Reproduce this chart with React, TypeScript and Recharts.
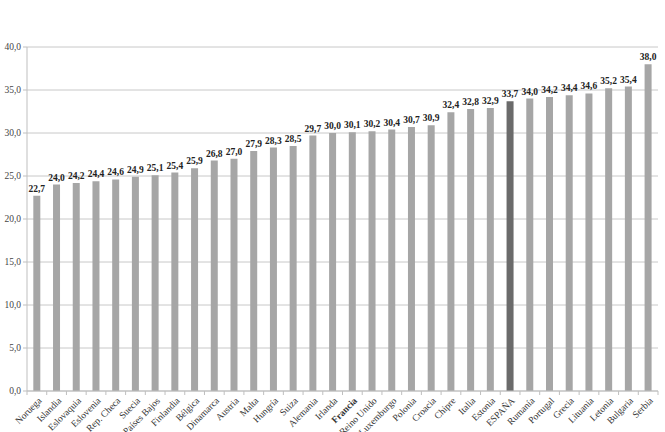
import { Bar, BarChart, CartesianGrid, Cell, LabelList, XAxis, YAxis } from 'recharts';

const countries = [
    'Noruega', 'Islandia', 'Eslovaquia', 'Eslovenia', 'Rep. Checa', 'Suecia', 'Países Bajos', 'Finlandia',
    'Bélgica', 'Dinamarca', 'Austria', 'Malta', 'Hungría', 'Suiza', 'Alemania', 'Irlanda',
    'Francia', 'Reino Unido', 'Luxemburgo', 'Polonia', 'Croacia', 'Chipre', 'Italia', 'Estonia',
    'ESPAÑA', 'Rumanía', 'Portugal', 'Grecia', 'Lituania', 'Letonia', 'Bulgaria', 'Serbia',
];

const values = [
    22.7, 24.0, 24.2, 24.4, 24.6, 24.9, 25.1, 25.4,
    25.9, 26.8, 27.0, 27.9, 28.3, 28.5, 29.7, 30.0,
    30.1, 30.2, 30.4, 30.7, 30.9, 32.4, 32.8, 32.9,
    33.7, 34.0, 34.2, 34.4, 34.6, 35.2, 35.4, 38.0,
];

const yTicks = [0, 5, 10, 15, 20, 25, 30, 35, 40];

const highlight = 'ESPAÑA';
const boldTick = 'Francia';

const data = countries.map((name, i) => ({ name, value: values[i] }));

const W = 665;
const H = 432;
const M = { top: 47, right: 7, left: 0, bottom: 0 };
const Y_W = 27;
const halfBand = (W - M.left - M.right - Y_W) / countries.length / 2;

const font = '"Liberation Serif", "DejaVu Serif", serif';
const fmt = (v: number) => v.toFixed(1).replace('.', ',');

function CountryTick(props: any) {
    const { x, y, payload, index } = props;
    const axisY = y - 6;
    const isBold = payload.value === boldTick;
    return (
        <g>
            <line x1={x - halfBand} y1={axisY} x2={x - halfBand} y2={axisY + 4} stroke="#bfbfbf" />
            {index === countries.length - 1 && (
                <line x1={x + halfBand} y1={axisY} x2={x + halfBand} y2={axisY + 4} stroke="#bfbfbf" />
            )}
            <text
                x={x + 3}
                y={y + 2}
                textAnchor="end"
                fontSize={9.5}
                fontFamily={font}
                fontWeight={isBold ? 'bold' : 'normal'}
                fill="#333"
                transform={`rotate(-45, ${x + 3}, ${y + 2})`}
                dy="0.35em"
            >
                {payload.value}
            </text>
        </g>
    );
}

export default function App() {
    return (
        <div>
            <style>{'body{margin:0}'}</style>
            <BarChart width={W} height={H} data={data} margin={M} barCategoryGap="32%">
                <CartesianGrid vertical={false} stroke="#c8c8c8" />
                <XAxis
                    dataKey="name"
                    interval={0}
                    height={41}
                    tickLine={false}
                    tickSize={4}
                    tickMargin={2}
                    axisLine={{ stroke: '#bfbfbf' }}
                    tick={<CountryTick />}
                />
                <YAxis
                    width={Y_W}
                    domain={[0, 40]}
                    ticks={yTicks}
                    tickFormatter={fmt}
                    tickSize={4}
                    tickMargin={2}
                    axisLine={{ stroke: '#bfbfbf' }}
                    tickLine={{ stroke: '#bfbfbf' }}
                    tick={{ fontSize: 9.5, fontFamily: font, fill: '#444' }}
                />
                <Bar dataKey="value" isAnimationActive={false}>
                    {data.map((d) => (
                        <Cell key={d.name} fill={d.name === highlight ? '#6b6b6b' : '#a6a6a6'} />
                    ))}
                    <LabelList
                        dataKey="value"
                        position="top"
                        offset={4}
                        formatter={(v: any) => fmt(Number(v))}
                        style={{ fontSize: 9.5, fontFamily: font, fontWeight: 'bold', fill: '#222' }}
                    />
                </Bar>
            </BarChart>
        </div>
    );
}
